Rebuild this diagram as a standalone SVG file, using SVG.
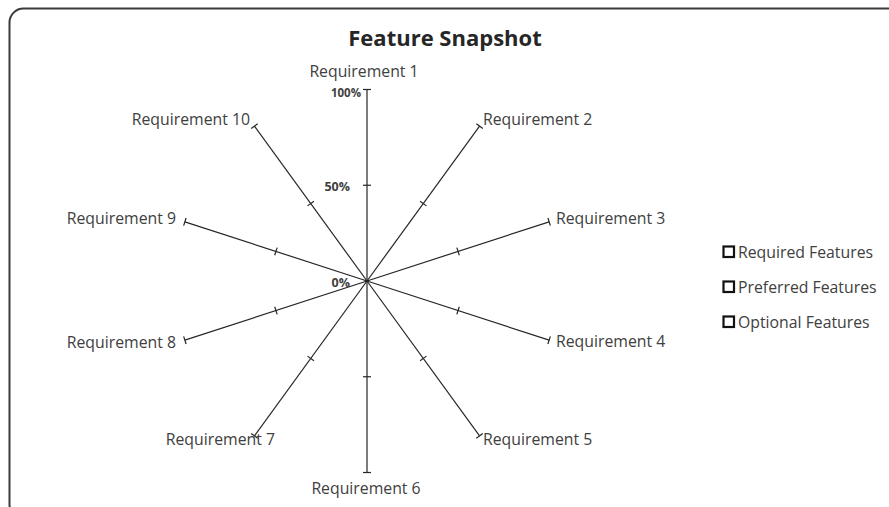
<svg xmlns="http://www.w3.org/2000/svg" xmlns:xlink="http://www.w3.org/1999/xlink" width="889" height="507" viewBox="0 0 889 507">
<style>
.lbl{font-family:"Open Sans","Liberation Sans",sans-serif;font-size:15.8px;fill:#404040}
.pct{font-family:"Open Sans","Liberation Sans",sans-serif;font-weight:bold;fill:#404040}
.ttl{font-family:"Open Sans","Liberation Sans",sans-serif;font-size:22px;font-weight:bold;fill:#262626}
.ax{stroke:#262626;stroke-width:1.2;fill:none}
.sw{fill:none;stroke:#111;stroke-width:2.2}
</style>
<defs>
<g id="axis">
<line class="ax" x1="367" y1="281" x2="367" y2="89.5"/>
<line class="ax" x1="363" y1="89.5" x2="371" y2="89.5"/>
<line class="ax" x1="363" y1="185.25" x2="371" y2="185.25"/>
</g>
</defs>
<rect x="9.5" y="8.5" width="900" height="510" rx="14" ry="14" fill="#fff" stroke="#3a3a3a" stroke-width="2"/>
<text class="ttl" x="445" y="46" text-anchor="middle">Feature Snapshot</text>
<g id="connectors">
<use xlink:href="#axis"/>
<use xlink:href="#axis" transform="rotate(36 367 281)"/>
<use xlink:href="#axis" transform="rotate(72 367 281)"/>
<use xlink:href="#axis" transform="rotate(108 367 281)"/>
<use xlink:href="#axis" transform="rotate(144 367 281)"/>
<use xlink:href="#axis" transform="rotate(180 367 281)"/>
<use xlink:href="#axis" transform="rotate(216 367 281)"/>
<use xlink:href="#axis" transform="rotate(252 367 281)"/>
<use xlink:href="#axis" transform="rotate(288 367 281)"/>
<use xlink:href="#axis" transform="rotate(324 367 281)"/>
</g>
<g id="scale">
<text class="pct" x="361" y="97" text-anchor="end" font-size="11.5">100%</text>
<text class="pct" x="350" y="191" text-anchor="end" font-size="12.5">50%</text>
<text class="pct" x="350" y="287" text-anchor="end" font-size="12.5">0%</text>
</g>
<g id="req1"><text class="lbl" x="364" y="77" text-anchor="middle">Requirement 1</text></g>
<g id="req2"><text class="lbl" x="483" y="125">Requirement 2</text></g>
<g id="req3"><text class="lbl" x="556" y="224">Requirement 3</text></g>
<g id="req4"><text class="lbl" x="556" y="347">Requirement 4</text></g>
<g id="req5"><text class="lbl" x="483" y="445">Requirement 5</text></g>
<g id="req6"><text class="lbl" x="366" y="494" text-anchor="middle">Requirement 6</text></g>
<g id="req7"><text class="lbl" x="275" y="445" text-anchor="end">Requirement 7</text></g>
<g id="req8"><text class="lbl" x="176" y="348" text-anchor="end">Requirement 8</text></g>
<g id="req9"><text class="lbl" x="176" y="224" text-anchor="end">Requirement 9</text></g>
<g id="req10"><text class="lbl" x="250" y="125" text-anchor="end">Requirement 10</text></g>
<g id="legend">
<rect class="sw" x="723.5" y="246.5" width="10.5" height="10.5"/>
<text class="lbl" x="738" y="257.5">Required Features</text>
<rect class="sw" x="723.5" y="281.5" width="10.5" height="10.5"/>
<text class="lbl" x="738" y="292.5">Preferred Features</text>
<rect class="sw" x="723.5" y="316.5" width="10.5" height="10.5"/>
<text class="lbl" x="738" y="327.5">Optional Features</text>
</g>
</svg>
